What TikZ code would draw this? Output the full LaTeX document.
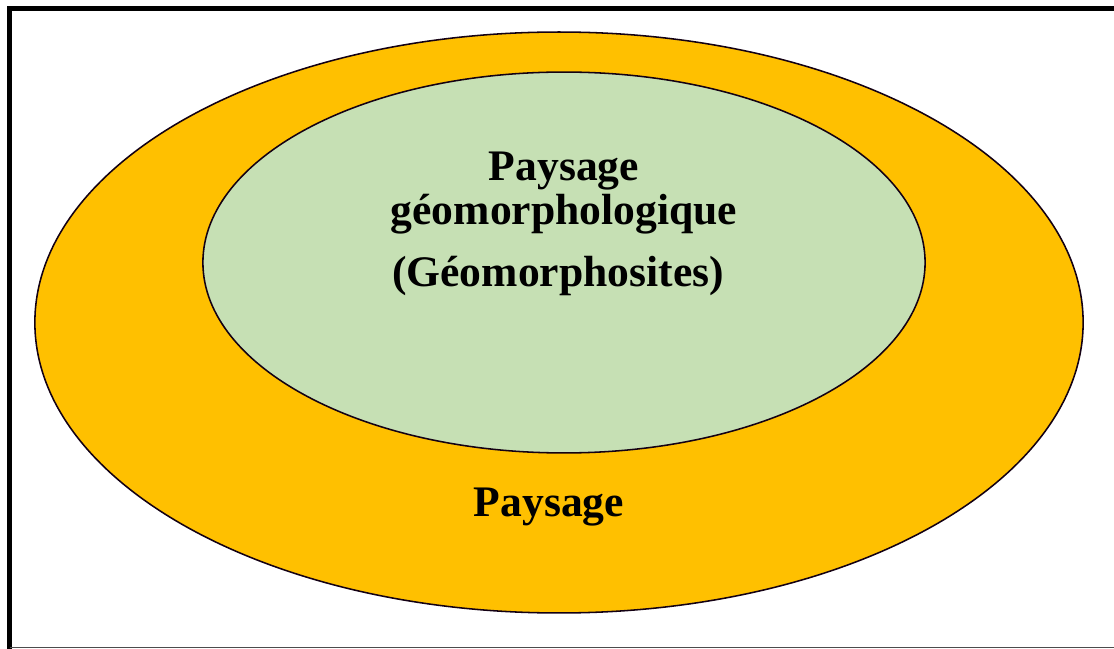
\documentclass[tikz,border=0pt]{standalone}
\usepackage{fontspec}
\setmainfont{Liberation Serif}
\usetikzlibrary{shapes.geometric}
\definecolor{naranja}{HTML}{FFC000}
\definecolor{verdeclaro}{HTML}{C6E0B4}

\begin{document}
\begin{tikzpicture}[
  x=0.025cm, y=-0.025cm,
  zona/.style={ellipse, draw=black!85!violet, line width=1.1pt, inner sep=0pt},
  etiqueta/.style={align=center, font=\fontsize{31}{31}\selectfont\bfseries, inner sep=0pt}
]
\useasboundingbox (0,0) rectangle (1114,649);
% marco
\draw[line width=3.6pt] (1130,8.5) -- (9.5,8.5) -- (9.5,660);
\draw[line width=0.8pt, black!70] (9.5,647.8) -- (1130,647.8);
% elipses
\node[zona, fill=naranja, minimum width=26.2cm, minimum height=14.52cm] (paisaje) at (559,322.5) {};
\node[zona, fill=verdeclaro, minimum width=18.05cm, minimum height=9.52cm] (geo) at (564,262.5) {};
% textos
\node[etiqueta] (titgeo) at (564,193) {Paysage\\géomorphologique};
\node[etiqueta] (sitios) at (558,276) {(Géomorphosites)};
\node[etiqueta] (titpai) at (549,507) {Paysage};
\end{tikzpicture}
\end{document}
